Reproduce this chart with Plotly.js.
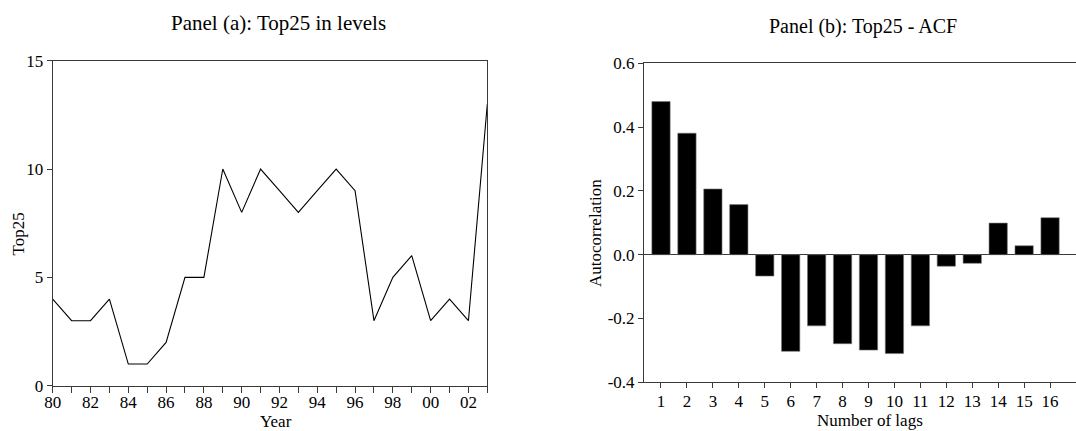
<!DOCTYPE html>
<html>
<head>
<meta charset="utf-8">
<script src="https://cdn.plot.ly/plotly-3.0.1.min.js"></script>
<style>html,body{margin:0;padding:0;background:#fff;}#chart{width:1076px;height:431px;}</style>
</head>
<body>
<div id="chart"></div>
<script>
// Panel (a): Top25 in levels
var years = [1980,1981,1982,1983,1984,1985,1986,1987,1988,1989,1990,1991,1992,1993,1994,1995,1996,1997,1998,1999,2000,2001,2002,2003];
var top25 = [4,3,3,4,1,1,2,5,5,10,8,10,9,8,9,10,9,3,5,6,3,4,3,13];
var yearTickLabels = ["80","","82","","84","","86","","88","","90","","92","","94","","96","","98","","00","","02",""];

// Panel (b): Top25 - ACF
var lags = [1,2,3,4,5,6,7,8,9,10,11,12,13,14,15,16];
var acf = [0.48,0.381,0.206,0.157,-0.067,-0.303,-0.223,-0.279,-0.299,-0.310,-0.223,-0.036,-0.027,0.099,0.028,0.116];
var acfTickVals = [-0.4,-0.2,0.0,0.2,0.4,0.6];
var acfTickText = ["-0.4","-0.2","0.0","0.2","0.4","0.6"];

var font = "Liberation Serif, Times New Roman, serif";
var axCol = "#3a3a3a";

var traces = [
  {x: years, y: top25, type: "scatter", mode: "lines", line: {color: "#000", width: 1.1}, xaxis: "x", yaxis: "y", hoverinfo: "skip"},
  {x: lags, y: acf, type: "bar", marker: {color: "#000", line: {color: "#777", width: 0.6}}, xaxis: "x2", yaxis: "y2", hoverinfo: "skip"}
];

var layout = {
  width: 1076, height: 431,
  margin: {l: 0, r: 0, t: 0, b: 0},
  paper_bgcolor: "#fff", plot_bgcolor: "#fff",
  showlegend: false,
  bargap: 0.295,
  font: {family: font, color: "#000", size: 17},
  xaxis: {
    domain: [0.0490, 0.4529], anchor: "y",
    range: [1980, 2003], tickmode: "array", tickvals: years, ticktext: yearTickLabels,
    ticks: "outside", ticklen: 6, tickcolor: axCol, tickwidth: 1, ticklabelstandoff: -5,
    showline: true, linecolor: axCol, linewidth: 1, mirror: true,
    showgrid: false, zeroline: false,
    tickfont: {family: font, size: 17}
  },
  yaxis: {
    domain: [0.1051, 0.8592], anchor: "x",
    range: [0, 15], tickvals: [0,5,10,15], ticktext: ["0","5","10","15"],
    ticks: "outside", ticklen: 5, tickcolor: axCol, tickwidth: 1,
    showline: true, linecolor: axCol, linewidth: 1, mirror: true,
    showgrid: false, zeroline: false,
    tickfont: {family: font, size: 17}
  },
  xaxis2: {
    domain: [0.5985, 1.0], anchor: "y2",
    range: [0.344, 17.0], tickmode: "array", tickvals: lags,
    ticks: "outside", ticklen: 5, tickcolor: axCol, tickwidth: 1, ticklabelstandoff: -2,
    showline: true, linecolor: axCol, linewidth: 1, mirror: true,
    showgrid: false, zeroline: false,
    tickfont: {family: font, size: 17}
  },
  yaxis2: {
    domain: [0.1130, 0.8531], anchor: "x2",
    range: [-0.4, 0.6], tickmode: "array", tickvals: acfTickVals, ticktext: acfTickText,
    ticks: "outside", ticklen: 5, tickcolor: axCol, tickwidth: 1,
    showline: true, linecolor: axCol, linewidth: 1, mirror: false,
    showgrid: false, zeroline: true, zerolinecolor: axCol, zerolinewidth: 1,
    tickfont: {family: font, size: 17}
  },
  annotations: [
    {text: "Panel (a): Top25 in levels", xref: "paper", yref: "paper", x: 278/1076, y: 1 - 23/431, xanchor: "center", yanchor: "middle", showarrow: false, font: {family: font, size: 21}},
    {text: "Panel (b): Top25 - ACF", xref: "paper", yref: "paper", x: 863/1076, y: 1 - 27/431, xanchor: "center", yanchor: "middle", showarrow: false, font: {family: font, size: 20}},
    {text: "Year", xref: "paper", yref: "paper", x: 275.5/1076, y: 0, xanchor: "center", yanchor: "bottom", yshift: -2, showarrow: false, font: {family: font, size: 17}},
    {text: "Number of lags", xref: "paper", yref: "paper", x: 870/1076, y: 0, xanchor: "center", yanchor: "bottom", yshift: -1, showarrow: false, font: {family: font, size: 17}},
    {text: "Top25", xref: "paper", yref: "paper", x: 17.5/1076, y: 1 - 234/431, xanchor: "center", yanchor: "middle", textangle: -90, showarrow: false, font: {family: font, size: 17}},
    {text: "Autocorrelation", xref: "paper", yref: "paper", x: 595/1076, y: 1 - 233/431, xanchor: "center", yanchor: "middle", textangle: -90, showarrow: false, font: {family: font, size: 17}}
  ]
};

Plotly.newPlot("chart", traces, layout, {staticPlot: true, displayModeBar: false});
</script>
</body>
</html>
